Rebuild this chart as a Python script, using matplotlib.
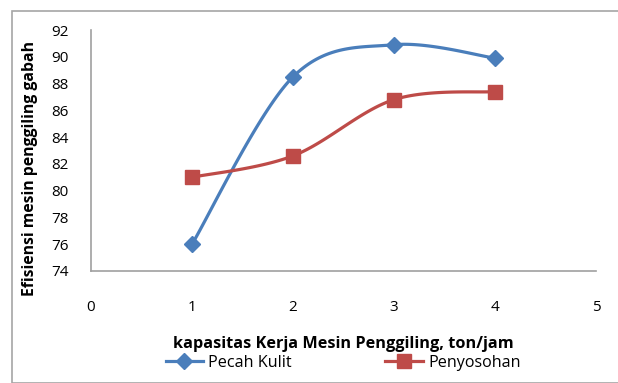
import numpy as np
import matplotlib
matplotlib.use("Agg")
import matplotlib.pyplot as plt
from matplotlib.patches import Rectangle

x_vals = [1, 2, 3, 4]
pecah_kulit = [76.0, 88.5, 90.9, 89.9]
penyosohan = [81.0, 82.6, 86.8, 87.4]
series_names = ["Pecah Kulit", "Penyosohan"]
x_ticks = [0, 1, 2, 3, 4, 5]
y_ticks = [74, 76, 78, 80, 82, 84, 86, 88, 90, 92]
xlabel = "kapasitas Kerja Mesin Penggiling, ton/jam"
ylabel = "Efisiensi mesin penggiling gabah"

plt.rcParams['font.family'] = ['Open Sans', 'DejaVu Sans']

def smooth(xs, ys, n=40):
    # Catmull-Rom style smoothing as in Excel "smoothed line"
    xs = np.asarray(xs, float); ys = np.asarray(ys, float)
    P = np.column_stack([xs, ys])
    P = np.vstack([P[0], P, P[-1]])
    out = []
    for i in range(1, len(P) - 2):
        p0, p1, p2, p3 = P[i-1], P[i], P[i+1], P[i+2]
        c1 = p1 + (p2 - p0) / 6.0
        c2 = p2 - (p3 - p1) / 6.0
        t = np.linspace(0, 1, n)[:, None]
        b = ((1-t)**3)*p1 + 3*((1-t)**2)*t*c1 + 3*(1-t)*t**2*c2 + t**3*p2
        out.append(b if i == 1 else b[1:])
    out = np.vstack(out)
    return out[:, 0], out[:, 1]

W, H = 618, 383
fig = plt.figure(figsize=(W/100, H/100), dpi=100)
fig.patches.append(Rectangle((12/W, 0), 1.2, (H-11)/H, transform=fig.transFigure,
                             fill=False, edgecolor='#A6A6A6', linewidth=1.2))

ax = fig.add_axes([91/W, (H-271)/H, (596-91)/W, (271-30)/H])
blue = '#4A7EBB'
red = '#BE4B48'

sx, sy = smooth(x_vals, pecah_kulit)
ax.plot(sx, sy, color=blue, lw=2.3, solid_capstyle='round')
ax.plot(x_vals, pecah_kulit, linestyle='none', marker='D', ms=8.5, color=blue,
        markeredgecolor=blue)
sx, sy = smooth(x_vals, penyosohan)
ax.plot(sx, sy, color=red, lw=2.3, solid_capstyle='round')
ax.plot(x_vals, penyosohan, linestyle='none', marker='s', ms=10.5, color=red,
        markeredgecolor=red)

# legend proxies
l1, = ax.plot([], [], color=blue, lw=2.3, marker='D', ms=8.5)
l2, = ax.plot([], [], color=red, lw=2.3, marker='s', ms=10.5)
fig.legend([l1, l2], series_names, loc='center', bbox_to_anchor=(343/W, 1-363/H),
           ncol=2, frameon=False, fontsize=11.6, handlelength=2.35, columnspacing=5.8,
           handletextpad=0.3, borderpad=0, borderaxespad=0)

ax.set_xlim(0, 5)
ax.set_ylim(74, 92)
ax.set_xticks(x_ticks)
ax.set_yticks(y_ticks)
ax.tick_params(length=0, labelsize=11, colors='#000000')
ax.tick_params(axis='x', pad=21)
ax.tick_params(axis='y', pad=16)
for s in ['top', 'right']:
    ax.spines[s].set_visible(False)
for s in ['left', 'bottom']:
    ax.spines[s].set_color('#A0A0A0')
    ax.spines[s].set_linewidth(1.2)
fig.text(343/W, 1-344/H, xlabel, fontsize=11.7, fontweight='bold', ha='center', va='center')
fig.text(30/W, 1-168/H, ylabel, fontsize=11.3, fontweight='bold', ha='center', va='center',
         rotation=90)

fig.savefig("out.png", dpi=100)
